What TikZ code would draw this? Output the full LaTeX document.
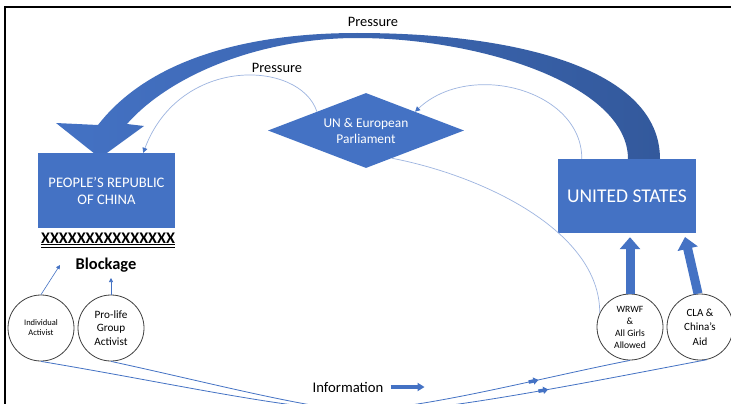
\documentclass[tikz,border=0pt]{standalone}
\usepackage{fontspec}
\setmainfont{Carlito}
\usetikzlibrary{arrows.meta,shapes.geometric,calc,decorations.markings}
\definecolor{obl}{HTML}{4472C4}
\definecolor{odk}{HTML}{33599C}
\definecolor{olt}{HTML}{9DB4E0}
\begin{document}
\begin{tikzpicture}[x=1pt,y=-1pt,
  box/.style={rectangle, fill=obl, text=white, inner sep=0pt, align=center},
  circ/.style={circle, draw=black!75, line width=0.8pt, fill=white, minimum size=66pt, inner sep=0pt, align=center},
  pcurve/.style={draw=olt, line width=0.7pt},
  ptip/.style={-{Triangle[width=5pt,length=5pt,color=obl,fill=obl]}},
  smallarr/.style={draw=obl, line width=0.6pt, -{Triangle[width=4pt,length=4pt]}},
  thickarr/.style={draw=obl, line width=9pt, -{Triangle[width=20pt,length=12pt]}},
  infoline/.style={draw=obl, line width=0.8pt},
  lbl/.style={inner sep=0pt, font=\fontsize{14.4}{16}\selectfont},
  infomark/.style={postaction={decorate}, decoration={markings,
     mark=at position #1 with {\draw[obl, line width=3.5pt, -{Triangle[width=7pt,length=5pt]}] (-8pt,0pt) -- (2pt,0pt);}}}
]
\useasboundingbox (0,0) rectangle (731,404);
\clip (0,0) rectangle (731,404);
\fill[white] (0,0) rectangle (731,404);
\draw[line width=2pt] (5,404) -- (5,7) -- (731,7);

% big curved pressure arrow (shape)
\shade[left color=obl, right color=odk]
  (98,125) .. controls (150,58) and (250,33) .. (357,33)
  .. controls (520,33) and (660,70) .. (660,159)
  -- (628,159) .. controls (628,85) and (480,38) .. (357,38)
  .. controls (260,38) and (170,75) .. (127,124)
  -- (144,126) -- (100,158) -- (56,123) -- cycle;

% nodes
\node[box, minimum width=137pt, minimum height=75pt, font=\fontsize{14.6}{17}\selectfont] (prc) at (106.5,190.5) {PEOPLE’S REPUBLIC\\OF CHINA};
\node[box, minimum width=138pt, minimum height=74pt, font=\fontsize{19.5}{22}\selectfont] (us) at (627,196) {UNITED STATES};
\node[diamond, aspect=2.6, fill=obl, text=white, minimum width=196pt, minimum height=75pt, inner sep=0pt, align=center, font=\fontsize{13.4}{16}\selectfont] (un) at (366,130.5) {UN \& European\\Parliament};

\node[inner sep=0pt, font=\bfseries\fontsize{16.2}{18}\selectfont] (xx) at (108,238) {XXXXXXXXXXXXXXX};
\draw[line width=0.8pt] ([yshift=-1.5pt]xx.base west) -- ([yshift=-1.5pt]xx.base east);
\draw[line width=0.8pt] ([yshift=-4.5pt]xx.base west) -- ([yshift=-4.5pt]xx.base east);
\node[inner sep=0pt, font=\bfseries\fontsize{16.4}{18}\selectfont] (blk) at (106,265) {Blockage};

\node[circ, font=\fontsize{8.5}{10}\selectfont] (ind) at (41,328) {Individual\\Activist};
\node[circ, font=\fontsize{11.2}{13.5}\selectfont] (pro) at (111,328) {Pro-life\\Group\\Activist};
\node[circ, font=\fontsize{9.6}{12}\selectfont] (wrwf) at (630,327) {WRWF\\\&\\All Girls\\Allowed};
\node[circ, font=\fontsize{11}{14.5}\selectfont] (cla) at (700,327) {CLA \&\\China’s\\Aid};

\node[lbl] (p1) at (373,22) {Pressure};
\node[lbl] (p2) at (277,68) {Pressure};
\node[lbl, font=\fontsize{14.7}{16}\selectfont] (info) at (348,387) {Information};

% information arrow
\coordinate (ia) at ($(info.east)+(7,0)$);
\coordinate (ib) at ($(info.east)+(41,0)$);
\draw[obl, line width=4pt, -{Triangle[width=8pt,length=7pt]}] (ia) -- (ib);

% activist arrows
\coordinate (indtip) at (60,265);
\coordinate (protip) at (111,278);
\draw[smallarr] (ind.north) -- (indtip);
\draw[smallarr] (pro.north) -- (protip);

% thick arrows to US
\coordinate (clatip) at (685,237);
\draw[thickarr] (wrwf.north) -- ([yshift=-4pt]wrwf.north |- us.south);
\draw[thickarr] ([xshift=-2pt]cla.north) -- (clatip);

% thin pressure curves
\draw[pcurve, ptip] (un.north west) .. controls (300,60) and (180,55) .. ($(prc.north east)+(-32,0)$);
\draw[pcurve, ptip] ($(us.north west)+(24,0)$) .. controls (582,90) and (470,60) .. (un.north east);
\draw[pcurve] (un.-47) .. controls (480,175) and (600,230) .. (wrwf.155);

% information lines
\draw[infoline, infomark=0.84] (ind.south) .. controls (170,383) and (290,410) .. (355,410)
   .. controls (420,410) and (540,378) .. (wrwf.south);
\draw[infoline, infomark=0.73] (pro.south) .. controls (220,385) and (320,412) .. (375,412)
   .. controls (440,412) and (600,380) .. (cla.-78);
\end{tikzpicture}
\end{document}
